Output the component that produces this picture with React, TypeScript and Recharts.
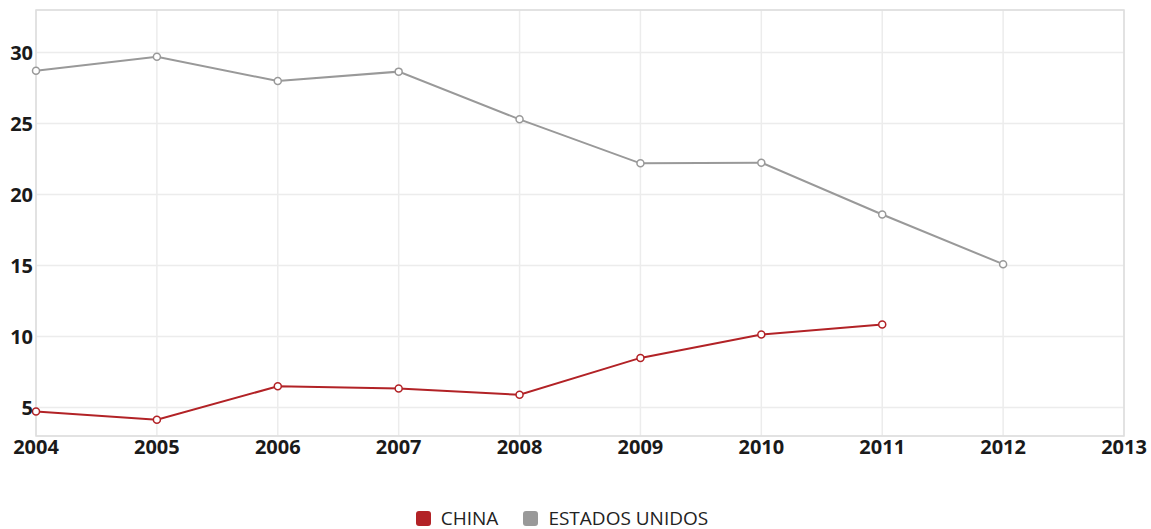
import React from "react";
import { LineChart, Line, XAxis, YAxis, CartesianGrid, Legend, ReferenceArea } from "recharts";

const years = [2004, 2005, 2006, 2007, 2008, 2009, 2010, 2011, 2012];
const china = [4.72, 4.15, 6.5, 6.35, 5.9, 8.5, 10.15, 10.85, null];
const estadosUnidos = [28.73, 29.7, 28.0, 28.66, 25.3, 22.2, 22.25, 18.6, 15.1];
const xTicks = [2004, 2005, 2006, 2007, 2008, 2009, 2010, 2011, 2012, 2013];
const yTicks = [5, 10, 15, 20, 25, 30];

const data = years.map((y, i) => ({ year: y, china: china[i], eu: estadosUnidos[i] }));

const FONT = "'Open Sans', 'DejaVu Sans', sans-serif";

const legendPayload = [
  { value: "CHINA", color: "#b22226" },
  { value: "ESTADOS UNIDOS", color: "#999999" },
];

const renderLegend = () => (
  <div
    style={{
      height: 63,
      boxSizing: "border-box",
      paddingTop: 41,
      display: "flex",
      justifyContent: "center",
      alignItems: "flex-start",
      fontFamily: FONT,
      fontSize: 19,
      lineHeight: "22px",
      color: "#222",
    }}
  >
    {legendPayload.map((p, i) => (
      <div key={p.value} style={{ display: "flex", alignItems: "center", marginLeft: i === 0 ? 0 : 25 }}>
        <span style={{ display: "inline-block", width: 15, height: 15, borderRadius: 3, background: p.color, marginRight: 10 }} />
        <span>{p.value}</span>
      </div>
    ))}
  </div>
);

export default function App() {
  return (
    <div style={{ position: "absolute", left: 0, top: 0, background: "#fff" }}>
      <LineChart width={1151} height={529} data={data} margin={{ top: 10, right: 27, bottom: 0, left: 0 }}>
        <CartesianGrid stroke="#ececec" strokeWidth={1.5} />
        <ReferenceArea x1={2004} x2={2013} y1={3} y2={33} fill="none" stroke="#dddddd" strokeWidth={1.5} />
        <XAxis
          dataKey="year"
          type="number"
          domain={[2004, 2013]}
          ticks={xTicks}
          tickLine={false}
          axisLine={false}
          tickSize={0}
          tick={{ fontFamily: FONT, fontSize: 20, fontWeight: 700, fill: "#1a1a1a" }}
          tickMargin={4}
          height={30}
        />
        <YAxis
          type="number"
          domain={[3, 33]}
          ticks={yTicks}
          tickLine={false}
          axisLine={false}
          tickSize={0}
          width={36}
          tick={{ fontFamily: FONT, fontSize: 20, fontWeight: 700, fill: "#1a1a1a" }}
          tickMargin={3}
        />
        <Legend verticalAlign="bottom" height={63} content={renderLegend} />
        <Line
          dataKey="eu"
          name="ESTADOS UNIDOS"
          stroke="#999999"
          strokeWidth={2}
          dot={{ r: 3.5, fill: "#fff", stroke: "#999999", strokeWidth: 1.5 }}
          isAnimationActive={false}
          connectNulls={false}
        />
        <Line
          dataKey="china"
          name="CHINA"
          stroke="#b22226"
          strokeWidth={2}
          dot={{ r: 3.5, fill: "#fff", stroke: "#b22226", strokeWidth: 1.5 }}
          isAnimationActive={false}
          connectNulls={false}
        />
      </LineChart>
    </div>
  );
}
